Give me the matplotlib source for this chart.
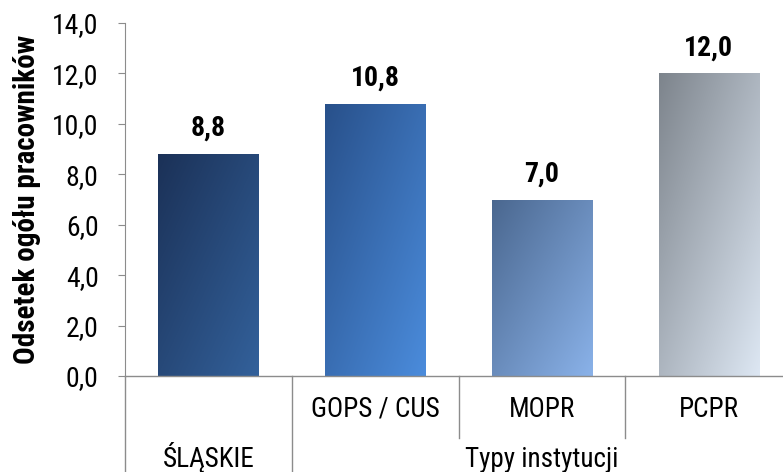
import matplotlib
matplotlib.use("Agg")
import matplotlib.pyplot as plt
import numpy as np
from matplotlib.colors import LinearSegmentedColormap

categories = ["ŚLĄSKIE", "GOPS / CUS", "MOPR", "PCPR"]
level1_labels = ["", "GOPS / CUS", "MOPR", "PCPR"]
values = [8.8, 10.8, 7.0, 12.0]
value_labels = ["8,8", "10,8", "7,0", "12,0"]
group_labels = ["ŚLĄSKIE", "Typy instytucji"]
y_ticks = [0, 2, 4, 6, 8, 10, 12, 14]
y_tick_labels = ["0,0", "2,0", "4,0", "6,0", "8,0", "10,0", "12,0", "14,0"]
gradients = [("#1b3157", "#33619b"),
             ("#28508a", "#4b8cdc"),
             ("#4a678f", "#8ab2e9"),
             ("#7d848c", "#dde7f3")]

plt.rcParams['font.family'] = ['Roboto Condensed', 'DejaVu Sans']

fig = plt.figure(figsize=(7.83, 4.72), dpi=100)
ax = fig.add_axes([125/783, 96/472, 667/783, 353/472])
x = np.arange(len(categories))
bars = ax.bar(x, values, width=0.6, color='none', edgecolor='none')
ax.set_xlim(-0.5, 3.5)
ax.set_ylim(0, 14)

h, w = 200, 200
u = np.linspace(0, 1, w)[None, :]
v = np.linspace(0, 1, h)[:, None]
t = 0.5 * u + 0.5 * v
for b, (c0, c1) in zip(bars, gradients):
    cmap = LinearSegmentedColormap.from_list("g", [c0, c1])
    x0, y0 = b.get_x(), b.get_y()
    bw, bh = b.get_width(), b.get_height()
    im = ax.imshow(t, cmap=cmap, extent=[x0, x0 + bw, y0, y0 + bh],
                   origin='upper', aspect='auto', zorder=2, vmin=0, vmax=1)
    im.set_clip_path(b)

for xi, val, lab in zip(x, values, value_labels):
    ax.annotate(lab, (xi, val), xytext=(0, 13), textcoords='offset points',
                ha='center', va='baseline', fontsize=20, fontweight='bold')

gray = "#8c8c8c"
for s in ['top', 'right', 'bottom']:
    ax.spines[s].set_visible(False)
ax.spines['left'].set_color(gray)
ax.spines['left'].set_bounds(0, 14)
ax.set_yticks(y_ticks)
ax.set_yticklabels(y_tick_labels, fontsize=20)
ax.tick_params(axis='y', length=5, color=gray, pad=14)
ax.set_xticks([])
ax.set_ylabel("Odsetek ogółu pracowników", fontsize=21, fontweight='bold')
ax.yaxis.set_label_coords(-84/667, 0.5)

tr = ax.get_xaxis_transform()
lw = 1.0
bottom = -0.28
ax.plot([-0.5, 3.5], [0, 0], transform=tr, color=gray, lw=lw, clip_on=False)
ax.plot([-0.5, -0.5], [0, bottom], transform=tr, color=gray, lw=lw, clip_on=False)
ax.plot([0.5, 0.5], [0, bottom], transform=tr, color=gray, lw=lw, clip_on=False)
for xs in [1.5, 2.5]:
    ax.plot([xs, xs], [0, -0.176], transform=tr, color=gray, lw=lw, clip_on=False)
for xi, lab in zip(x, level1_labels):
    ax.text(xi, -(417 - 376) / 353, lab, transform=tr, ha='center', va='baseline', fontsize=19.5)
ax.text(0, -(467 - 376) / 353, group_labels[0], transform=tr, ha='center', va='baseline', fontsize=19.5)
ax.text(2, -(467 - 376) / 353, group_labels[1], transform=tr, ha='center', va='baseline', fontsize=19.5)

fig.savefig("out.png", dpi=100)
